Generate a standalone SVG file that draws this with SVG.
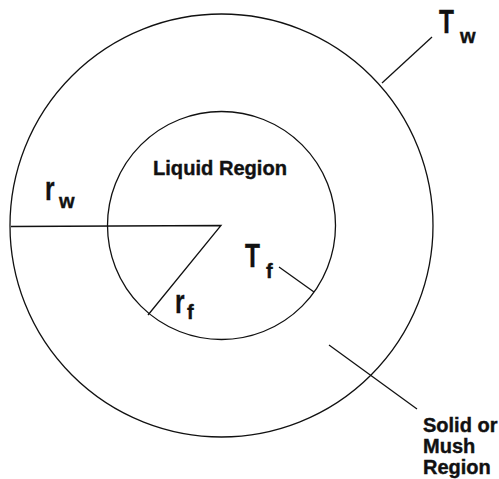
<svg xmlns="http://www.w3.org/2000/svg" width="499" height="479" viewBox="0 0 499 479">
<style>
.ln{fill:none;stroke:#111;stroke-width:1.3}
.lb{font-family:"Liberation Sans",Arial,sans-serif;font-weight:bold;fill:#111;stroke:#111;stroke-width:0.4}
.big{font-size:34px}
.sub{font-size:20px}
.txt{font-size:20px}
</style>
<rect width="499" height="479" fill="#fff"/>
<g id="outer-circle"><circle class="ln" cx="221.5" cy="225.5" r="211.5"/></g>
<g id="inner-circle"><circle class="ln" cx="221.5" cy="225.5" r="114"/></g>
<g id="connectors">
<polyline class="ln" points="11,226.5 221,225.5 148,315"/>
<line class="ln" x1="279" y1="267" x2="314" y2="292"/>
<line class="ln" x1="432" y1="37" x2="382" y2="83"/>
<line class="ln" x1="329" y1="345" x2="417" y2="409"/>
</g>
<g id="label-liquid"><text class="lb txt" x="153" y="175" textLength="134" lengthAdjust="spacingAndGlyphs">Liquid Region</text></g>
<g id="label-Tw"><text class="lb big" transform="translate(439,33) scale(0.72,1)">T</text><text class="lb sub" x="460" y="43">w</text></g>
<g id="label-Tf"><text class="lb big" transform="translate(245,267) scale(0.72,1)">T</text><text class="lb sub" x="266" y="278">f</text></g>
<g id="label-rw"><text class="lb big" transform="translate(45,200) scale(0.72,1)">r</text><text class="lb sub" x="59" y="208">w</text></g>
<g id="label-rf"><text class="lb big" transform="translate(175,313) scale(0.72,1)">r</text><text class="lb sub" x="187" y="319">f</text></g>
<g id="label-solid"><text class="lb txt" x="423" y="432">Solid or</text><text class="lb txt" x="423" y="453">Mush</text><text class="lb txt" x="423" y="474">Region</text></g>
</svg>
